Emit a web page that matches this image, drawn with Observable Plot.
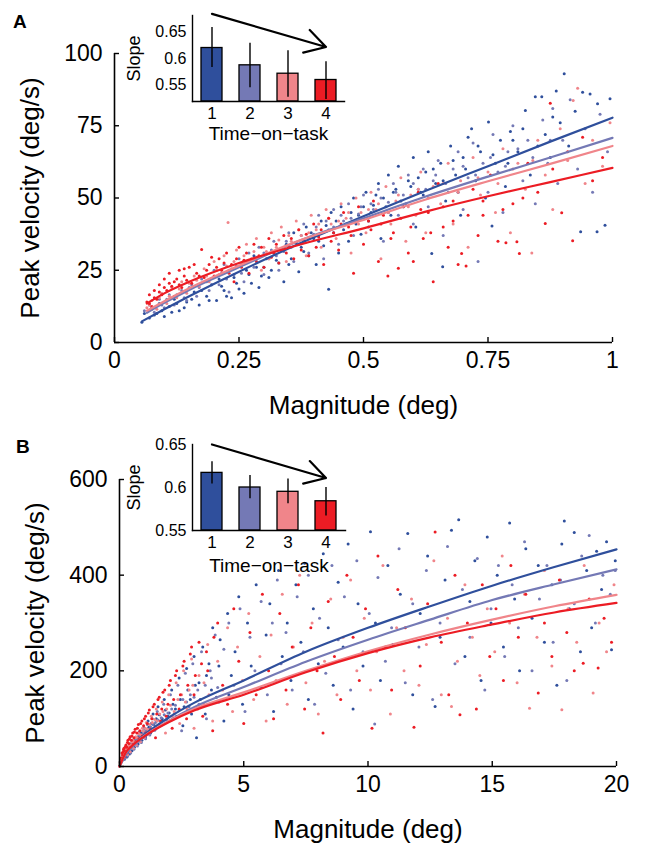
<!DOCTYPE html>
<html><head><meta charset="utf-8">
<script src="https://cdn.jsdelivr.net/npm/d3@7"></script>
<script src="https://cdn.jsdelivr.net/npm/@observablehq/plot@0.6"></script>
<style>
body{margin:0;background:#fff;}
#fig{position:relative;width:660px;height:846px;font-family:"Liberation Sans",Arial,sans-serif;}
#fig > div{position:absolute;}
.lbl{font-weight:bold;font-size:19px;}
</style></head>
<body><div id="fig"></div>
<script>
// ---------- colours / categories ----------
const tasks = ["1","2","3","4"];
const colors = ["#2f4f9c","#7479b5","#f0858a","#ec1c24"];

// ---------- Panel A: scatter (x = magnitude deg, y = peak velocity deg/s) ----------
const aDark = [[0.055,7],[0.06,10],[0.07,8.5],[0.075,12],[0.085,10],[0.09,13.5],[0.1,9],[0.11,12.5],[0.12,15],[0.13,11],[0.145,14],[0.16,17.5],[0.17,13],[0.185,16],[0.195,20],
[0.205,14.5],[0.21,22],[0.22,18],[0.23,25],[0.235,15.5],[0.245,20.5],[0.255,27],[0.26,17],[0.27,23.5],[0.28,30],[0.29,19],[0.3,26],[0.31,22.5],[0.32,31],[0.33,27.5],[0.34,21],[0.345,34],
[0.355,29],[0.36,38],[0.37,24.5],[0.375,33],[0.385,40],[0.39,30],[0.4,36],[0.405,27],[0.415,42],[0.42,33.5],[0.43,18.4],[0.435,45],[0.44,38],[0.45,31],[0.455,47],[0.465,41],[0.47,35],[0.48,50],[0.49,44],[0.495,37.5],
[0.505,52],[0.51,42],[0.52,47.5],[0.53,55],[0.535,36],[0.54,50],[0.55,58],[0.555,44],[0.565,53],[0.57,61],[0.58,47],[0.59,56],[0.6,64],[0.605,40],[0.615,52],[0.625,59],[0.63,66],[0.637,30.8],[0.645,55],[0.655,62],[0.659,26.2],[0.665,49],[0.675,68],[0.685,58],[0.695,44],[0.7,64],
[0.71,71],[0.717,74],[0.725,56],[0.735,66],[0.745,50],[0.751,76.3],[0.758,40.3],[0.765,62],[0.775,70],[0.785,54],[0.795,73],[0.81,66],[0.825,80.3],[0.835,58],[0.845,85],
[0.858,85],[0.865,72],[0.875,64],[0.887,87],[0.895,76],[0.903,93],[0.912,68],[0.925,80],[0.936,38.3],[0.94,86.6],[0.955,86],[0.969,38.3],[0.97,82.6],[0.985,40.6],[0.995,84.3]];
const aDarkDense = [[0.08,9.5],[0.095,11],[0.115,10.5],[0.125,13.5],[0.14,12],[0.155,15],[0.175,18],[0.19,14.5],[0.215,19.5],[0.225,16],[0.24,22.5],[0.25,18.5],[0.265,25],[0.275,20.5],[0.285,26],[0.295,23],[0.305,29],[0.315,25],[0.325,28.5],[0.335,32],[0.35,27],[0.365,34.5],[0.38,31.5],[0.395,38],[0.41,35],[0.425,40.5],[0.445,42],[0.46,39],[0.475,45],[0.485,41],[0.5,47],[0.515,45],[0.525,51],[0.545,47],[0.56,52],[0.575,49],[0.595,54],[0.61,57],[0.62,51],[0.64,60],[0.66,56],[0.68,63],[0.69,52],[0.705,60],[0.73,68],[0.76,65],[0.79,62],[0.8,70],[0.82,74],[0.85,68],[0.88,78]];
const aLight = [[0.06,11],[0.07,13],[0.08,10.5],[0.09,15],[0.1,12],[0.11,16.5],[0.12,13],[0.135,18],[0.145,14.5],[0.155,20],[0.165,16],[0.175,22],[0.19,18],[0.2,25],
[0.21,20],[0.22,27],[0.23,17.5],[0.24,23.5],[0.25,29],[0.26,21],[0.27,31],[0.28,26],[0.29,33],[0.3,23.5],[0.31,29],[0.32,35],[0.33,25],[0.34,31.5],
[0.35,38],[0.36,28],[0.37,34],[0.38,41],[0.39,31],[0.4,37.5],[0.41,44],[0.42,29],[0.43,39],[0.44,46],[0.45,34],[0.46,42],[0.47,48],[0.48,37],[0.49,44.5],
[0.5,51],[0.51,40],[0.52,46],[0.53,53],[0.54,35],[0.55,48.5],[0.56,55],[0.57,44],[0.58,51],[0.59,58],[0.6,41],[0.61,53],[0.62,60],[0.63,47],[0.64,56],[0.65,63],[0.66,37],[0.67,52],[0.68,60],[0.69,66],[0.7,46],
[0.71,57],[0.72,69],[0.73,28],[0.74,62],[0.75,52],[0.76,72],[0.77,59],[0.78,45],[0.79,66],[0.8,75],[0.82,56],[0.83,70],[0.845,48],[0.86,77],
[0.87,62],[0.88,81],[0.89,55],[0.9,70],[0.915,84],[0.93,60],[0.945,74],[0.96,52],[0.975,79],[0.99,66]];
const aLightDense = [[0.075,11.5],[0.095,13],[0.105,15],[0.125,16.5],[0.14,15.5],[0.15,19],[0.17,19],[0.185,21],[0.195,20],[0.215,24],[0.225,22],[0.245,26.5],[0.255,24],[0.265,28],[0.285,29.5],[0.3,31],[0.315,32],[0.325,30],[0.345,35],[0.355,33],[0.375,37],[0.39,36],[0.405,40],[0.425,42],[0.44,40],[0.455,44],[0.475,43],[0.495,47],[0.515,48],[0.535,50],[0.55,45],[0.565,52],[0.585,48],[0.6,55],[0.625,53],[0.645,58],[0.665,55],[0.7,61],[0.725,58],[0.755,64],[0.785,61],[0.81,67],[0.84,64],[0.875,70]];
const aPink = [[0.065,12],[0.075,14.5],[0.085,11.5],[0.095,17],[0.105,13.5],[0.115,19],[0.125,15.5],[0.135,21],[0.145,17],[0.16,23],[0.17,19.5],[0.18,25.5],[0.19,21],[0.2,28],
[0.21,23.5],[0.22,30],[0.228,41.5],[0.235,25.5],[0.245,32],[0.255,27],[0.265,34],[0.275,29],[0.285,36],[0.295,25],[0.305,31.5],[0.315,38],[0.325,33],[0.335,40],[0.345,28],
[0.355,35],[0.365,42],[0.375,37],[0.385,30],[0.395,44],[0.405,39],[0.415,33],[0.425,46],[0.435,41],[0.445,36],[0.455,48],[0.465,43],[0.475,31],[0.485,50],[0.495,45],
[0.505,38],[0.515,52],[0.525,46],[0.535,29],[0.545,54],[0.555,41],[0.565,49],[0.575,57],[0.585,35],[0.595,51],[0.605,44],[0.615,59],[0.625,38],[0.64,54],[0.655,48],[0.67,62],[0.68,41],[0.695,56],
[0.71,33],[0.72,64],[0.735,51],[0.75,59],[0.765,45],[0.78,67],[0.795,38],[0.81,62],[0.825,53],[0.838,31],[0.85,70],
[0.865,58],[0.88,46],[0.895,74],[0.91,63],[0.921,83.7],[0.93,88],[0.945,55],[0.96,70],[0.98,61],[0.995,76]];
const aPinkDense = [[0.07,13],[0.09,15.5],[0.11,16],[0.13,18.5],[0.15,20.5],[0.165,21.5],[0.185,23],[0.205,25],[0.225,26.5],[0.24,28],[0.26,30],[0.28,31.5],[0.3,33],[0.31,29],[0.33,35.5],[0.35,37],[0.37,39],[0.39,38],[0.41,41],[0.43,43],[0.45,42],[0.47,45],[0.49,41],[0.51,46],[0.53,48],[0.55,45],[0.57,51],[0.59,47],[0.61,53],[0.63,50],[0.66,55],[0.69,52],[0.73,57],[0.77,55],[0.8,60],[0.84,63]];
const aRed = [[0.065,14],[0.07,16.5],[0.075,12.5],[0.08,18],[0.085,15],[0.09,20],[0.095,16.5],[0.1,22],[0.105,18],[0.11,24],[0.115,19.5],[0.12,16],[0.125,22],[0.13,25],[0.135,19],[0.14,23],[0.15,26],[0.155,20.5],[0.165,24],[0.175,32.2],[0.18,22.5],[0.19,27],[0.2,23],
[0.21,29],[0.215,25],[0.225,31],[0.235,27],[0.24,21],[0.25,33],[0.26,28.5],[0.27,24],[0.28,34],[0.29,30],[0.3,26],[0.31,36],[0.32,31],[0.33,27.5],[0.34,37],[0.35,33],
[0.36,29],[0.37,39],[0.38,35],[0.39,30],[0.4,41],[0.41,36.5],[0.42,27],[0.43,43],[0.44,38],[0.45,32],[0.46,45],[0.47,40],[0.48,24],[0.49,47],[0.5,34],
[0.51,42],[0.52,49],[0.53,28],[0.54,44],[0.549,23],[0.56,38],[0.57,25.7],[0.58,47],[0.59,31],[0.6,28],[0.61,52],[0.62,36],[0.63,45],[0.64,21],[0.65,55],[0.66,40],[0.67,33],[0.68,49],[0.69,27],[0.697,30.8],[0.706,26.5],
[0.72,53],[0.73,37],[0.74,44],[0.755,58],[0.77,35],[0.786,34.5],[0.8,48],[0.808,34.9],[0.813,30.8],[0.83,62],[0.85,52],
[0.865,41.2],[0.875,82.8],[0.88,60],[0.898,44.9],[0.91,66],[0.92,35.2],[0.94,71],[0.96,56],[0.98,64]];
const aRedDense = [[0.07,13.5],[0.08,15.5],[0.09,17.5],[0.1,19],[0.11,20.5],[0.12,21],[0.13,20],[0.14,25.5],[0.145,21.5],[0.16,27],[0.17,23],[0.185,25],[0.195,29.5],[0.205,26],[0.22,27.5],[0.23,24],[0.245,29],[0.255,26],[0.265,31],[0.285,28],[0.295,33],[0.315,29.5],[0.325,34],[0.345,31],[0.355,36],[0.375,32],[0.385,37.5],[0.405,33],[0.415,39],[0.435,35],[0.455,41],[0.475,37],[0.495,43],[0.515,39],[0.535,41],[0.555,36],[0.575,43],[0.595,40],[0.615,46],[0.635,38],[0.66,47],[0.68,42],[0.71,44],[0.74,49],[0.78,46],[0.82,50]];

// Panel A fitted curves
const aFitDark  = [[0.055,7.3],[0.1,11.5],[0.15,16],[0.25,24.5],[0.375,34.5],[0.5,43.7],[0.625,52.5],[0.75,61],[0.875,69.5],[1,77.8]];
const aFitLight = [[0.065,10.3],[0.1,13.7],[0.15,18.2],[0.25,26],[0.375,35.5],[0.5,43],[0.625,50.5],[0.75,57.4],[0.875,64],[1,70.8]];
const aFitPink  = [[0.065,11],[0.1,14.3],[0.15,18.8],[0.25,26.6],[0.375,35.5],[0.5,42.4],[0.625,49.5],[0.75,55.8],[0.875,61.8],[1,68]];
const aFitRed   = [[0.065,13.5],[0.1,17],[0.15,21],[0.25,27.5],[0.375,34],[0.5,39.5],[0.625,45.3],[0.75,50.6],[0.875,55.5],[1,60.4]];

// ---------- Panel B ----------
const bDark = [[0.1,12],[0.15,22],[0.2,15],[0.25,30],[0.3,20],[0.35,38],[0.4,26],[0.45,45],[0.5,33],[0.55,52],[0.6,40],[0.7,60],[0.75,47],[0.8,72],[0.9,55],[1.0,80],[1.05,62],[1.15,95],[1.25,70],[1.35,110],[1.45,82],[1.55,125],[1.7,95],[1.8,140],[1.95,105],[2.1,160],[2.25,120],[2.4,185],[2.55,85],[2.7,205],[2.85,140],[3.0,230],[3.1,60],
[3.2,175],[3.35,250],[3.45,110],[3.6,215],[3.75,290],[3.9,145],[4.05,265],[4.2,95],[4.35,320],[4.5,190],[4.65,240],[4.8,355],[4.95,130],[5.15,300],[5.3,210],[5.5,380],[5.7,165],[5.9,275],
[6.05,340],[6.2,115],[6.4,410],[6.55,230],[6.75,300],[6.9,180],[7.1,380],[7.3,260],[7.45,425],[7.6,140],[7.8,330],[8.0,215],[8.2,445],[8.4,290],[8.6,170],[8.8,385],[9.0,250],[9.2,465],[9.4,120],[9.6,340],[9.8,210],[10.1,491],
[10.3,300],[10.5,180],[10.8,420],[11.0,255],[11.3,360],[11.6,487],[11.8,150],[12.1,320],[12.4,440],[12.7,125.6],[12.9,270],[13.1,390],[13.36,494],[13.65,516],[13.9,230],[14.1,345],[14.3,430],[14.55,180],[14.8,480],[14.95,300],
[15.2,400],[15.45,250],[15.7,509],[15.9,350],[16.1,200],[16.35,455],[16.6,310],[16.85,420],[17.1,260],[17.4,380],[17.6,170],[17.8,465],[17.9,513],[18.1,330],[18.3,489],[18.55,240],[18.8,410],[19.0,290],[19.2,450],[19.4,370],[19.6,470],[19.8,244],[19.95,430]];
const bDarkDense = [[0.05,8],[0.15,16],[0.22,25],[0.3,31],[0.38,30],[0.42,40],[0.48,48],[0.55,40],[0.62,55],[0.68,48],[0.75,62],[0.82,58],[0.88,70],[0.95,66],[1.02,72],[1.1,75],[1.18,82],[1.28,90],[1.38,88],[1.48,100],[1.6,108],[1.72,100],[1.85,118],[2.0,112],[2.15,130],[2.3,105],[2.45,140],[2.6,125],[2.75,160],[2.9,110],[3.05,170],[3.25,140],[3.5,190],[3.7,160],[4.0,210],[4.4,150]];
const bLight = [[0.12,14],[0.18,25],[0.22,17],[0.28,33],[0.33,22],[0.4,41],[0.45,28],[0.52,48],[0.58,36],[0.65,56],[0.72,43],[0.8,66],[0.88,50],[0.95,75],[1.05,58],[1.12,88],[1.22,66],[1.32,100],[1.42,76],[1.52,115],[1.65,85],[1.78,130],[1.9,98],[2.05,150],[2.2,110],[2.35,170],[2.5,75],[2.65,195],[2.8,125],[2.95,215],
[3.15,160],[3.3,240],[3.5,100],[3.65,200],[3.85,275],[4.0,135],[4.2,245],[4.4,300],[4.6,170],[4.85,330],[5.05,115],[5.25,270],[5.45,200],[5.7,345],[5.95,150],
[6.15,300],[6.35,390],[6.5,215],[6.7,280],[6.95,160],[7.15,355],[7.4,240],[7.6,400],[7.85,130],[8.05,310],[8.3,195],[8.55,420],[8.8,265],[9.05,355],[9.3,160],[9.55,430],[9.8,240],
[10.05,320],[10.27,89],[10.4,395],[10.7,220],[10.95,290],[11.25,455],[11.5,175],[11.8,340],[12.05,250],[12.35,410],[12.6,140],[12.9,300],[13.2,460],[13.5,215],[13.8,370],[14.1,270],[14.4,435],[14.7,160],[14.95,330],
[15.25,420],[15.5,230],[15.8,380],[16.05,290],[16.3,470],[16.6,200],[16.9,350],[17.2,420],[17.45,260],[17.75,390],[18.0,180],[18.3,340],[18.6,440],[18.9,483],[19.15,300],[19.45,400],[19.75,360],[19.95,410]];
const bLightDense = [[0.07,9],[0.14,18],[0.2,24],[0.26,28],[0.35,34],[0.42,37],[0.5,44],[0.56,45],[0.63,50],[0.7,55],[0.78,58],[0.85,63],[0.92,66],[1.0,68],[1.08,72],[1.16,77],[1.25,83],[1.35,88],[1.45,92],[1.55,97],[1.68,102],[1.8,108],[1.95,112],[2.1,120],[2.25,128],[2.4,118],[2.55,140],[2.7,135],[2.85,150],[3.0,145],[3.2,130],[3.45,170],[3.7,185],[3.95,165]];
const bPink = [[0.1,16],[0.16,27],[0.21,20],[0.27,36],[0.32,25],[0.38,44],[0.43,31],[0.5,52],[0.56,38],[0.62,60],[0.68,45],[0.76,70],[0.84,52],[0.92,80],[1.0,60],[1.08,92],[1.18,68],[1.28,105],[1.38,78],[1.48,120],[1.6,88],[1.72,135],[1.85,70],[1.98,150],[2.12,105],[2.28,175],[2.42,90],[2.58,200],[2.72,120],[2.9,225],[3.0,80],
[3.2,190],[3.4,130],[3.55,255],[3.75,95],[3.95,220],[4.15,160],[4.35,290],[4.55,115],[4.75,250],[4.95,180],[5.2,320],[5.4,140],[5.65,230],[5.9,95],
[6.1,275],[6.3,180],[6.55,360],[6.75,130],[7.0,250],[7.25,400],[7.5,175],[7.75,300],[8.0,110],[8.25,220],[8.5,350],[8.75,150],[9.0,270],[9.3,390],[9.55,200],[9.85,310],
[10.1,160],[10.35,240],[10.6,420],[10.9,110],[11.15,290],[11.45,200],[11.75,350],[12.05,170],[12.35,255],[12.65,430],[12.95,150],[13.2,310],[13.36,125.6],[13.6,220],[13.9,380],[14.2,270],[14.5,190],[14.8,330],
[15.1,240],[15.4,440],[15.7,300],[16.0,175],[16.3,360],[16.5,122],[16.8,270],[17.1,410],[17.4,210],[17.8,118.7],[18.05,330],[18.4,260],[18.7,420],[19.06,153.6],[19.3,300],[19.6,240],[19.9,380]];
const bPinkDense = [[0.05,10],[0.12,20],[0.18,28],[0.24,30],[0.3,38],[0.36,40],[0.42,46],[0.48,45],[0.54,55],[0.6,52],[0.66,62],[0.72,60],[0.8,68],[0.88,66],[0.96,74],[1.04,80],[1.12,78],[1.22,88],[1.32,92],[1.42,98],[1.52,95],[1.62,110],[1.75,115],[1.9,120],[2.05,128],[2.2,115],[2.35,140],[2.5,150],[2.65,135],[2.8,160],[2.95,170],[3.15,120],[3.4,175],[3.6,150]];
const bRed = [[0.08,14],[0.12,24],[0.16,35],[0.2,20],[0.24,42],[0.28,28],[0.32,50],[0.36,34],[0.4,58],[0.45,40],[0.5,64],[0.55,46],[0.6,72],[0.66,52],[0.72,80],[0.78,58],[0.85,90],[0.92,64],[1.0,100],[1.08,70],[1.16,112],[1.25,78],[1.35,125],[1.45,60],[1.55,140],[1.65,95],[1.75,155],[1.88,105],[2.0,170],[2.12,80],[2.25,190],[2.4,120],[2.55,210],[2.7,100],[2.85,235],[3.0,150],
[3.2,260],[3.35,105],[3.55,200],[3.75,75],[3.95,300],[4.15,170],[4.35,130],[4.6,330],[4.8,220],[5.0,90],[5.25,280],[5.5,150],[5.75,360],[6.0,200],[6.2,100],
[6.45,320],[6.7,160],[6.95,250],[7.2,380],[7.45,120],[7.7,290],[7.95,200],[8.19,70],[8.4,345],[8.65,230],[8.9,140],[9.15,400],[9.4,270],[9.65,180],[9.9,330],
[10.16,80],[10.4,440],[10.7,250],[10.95,160],[11.2,370],[11.5,290],[11.85,82],[12.1,210],[12.4,340],[12.7,490],[12.95,260],[13.25,150],[13.5,400],[13.7,108],[14.0,300],[14.36,120],[14.6,380],[14.9,230],
[15.15,330],[15.45,180],[15.75,420],[16.05,270],[16.35,360],[16.85,153.6],[17.1,300],[17.4,230],[17.7,390],[18.0,280],[18.3,200],[18.66,216],[18.9,350],[19.26,206],[19.5,310],[19.8,260]];
const bRedDense = [[0.04,9],[0.06,18],[0.1,28],[0.14,30],[0.18,38],[0.22,32],[0.26,45],[0.3,40],[0.34,55],[0.38,48],[0.43,62],[0.48,55],[0.53,70],[0.58,60],[0.63,78],[0.7,70],[0.76,88],[0.82,75],[0.9,95],[0.97,85],[1.05,105],[1.12,90],[1.2,118],[1.3,100],[1.4,130],[1.5,110],[1.6,145],[1.7,120],[1.82,160],[1.95,130],[2.05,180],[2.18,140],[2.3,200],[2.45,150],[2.6,220],[2.75,170],[2.9,250],[3.05,190],[3.3,215],[3.5,240],[3.8,270]];

const bFitDark  = [[0,0],[0.25,27],[0.5,42],[1,66],[2,103],[3,133],[5,180],[7.5,240],[10,290],[12.5,335],[15,378],[17.5,417],[20,454]];
const bFitLight = [[0,0],[0.25,25],[0.5,40],[1,62],[2,96],[3,124],[5,166],[7.5,219],[10,265],[12.5,307],[15,348],[17.5,381],[20,412]];
const bFitPink  = [[0,0],[0.25,29],[0.5,43],[1,64],[2,95],[3,120],[5,155],[7.5,200],[10,241],[12.5,276],[15,307],[17.5,335],[20,359]];
const bFitRed   = [[0,0],[0.25,29],[0.5,43],[1,63],[2,93],[3,117],[5,150],[7.5,197],[10,237],[12.5,270],[15,297],[17.5,322],[20,342]];

// ---------- insets: slope by time-on-task ----------
const aSlope = [0.620, 0.587, 0.571, 0.559];
const aSlopeLo = [0.583, 0.544, 0.526, 0.522];
const aSlopeHi = [0.659, 0.629, 0.615, 0.594];
const bSlope = [0.617, 0.600, 0.595, 0.584];
const bSlopeLo = [0.604, 0.587, 0.581, 0.567];
const bSlopeHi = [0.630, 0.614, 0.610, 0.600];

// ticks & labels
const aXTicks = [0, 0.25, 0.5, 0.75, 1];
const aYTicks = [0, 25, 50, 75, 100];
const bXTicks = [0, 5, 10, 15, 20];
const bYTicks = [0, 200, 400, 600];
const insetTicks = [0.55, 0.6, 0.65];
const xTitle = "Magnitude (deg)";
const yTitle = "Peak velocity (deg/s)";
const insetXTitle = "Time\u2212on\u2212task";
const insetYTitle = "Slope";

const FONT = "'Liberation Sans', Arial, sans-serif";
const toObj = arr => arr.map(([x, y]) => ({x, y}));

function mainPanel({height, margins, xDomain, yDomain, xTicks, yTicks, scatter, fits, tickLen}) {
  const [mt, mr, mb, ml] = margins;
  return Plot.plot({
    width: 660, height,
    marginTop: mt, marginRight: mr, marginBottom: mb, marginLeft: ml,
    x: {domain: xDomain, label: null},
    y: {domain: yDomain, label: null},
    style: {fontFamily: FONT, background: "transparent", overflow: "visible", color: "black"},
    marks: [
      ...scatter.map((s, i) => Plot.dot(toObj(s), {x: "x", y: "y", r: 1.5, fill: colors[i], stroke: null})),
      ...fits.map((f, i) => Plot.line(toObj(f), {x: "x", y: "y", stroke: colors[i], strokeWidth: 2.2, curve: "monotone-x"})),
      Plot.ruleX([xDomain[0]], {strokeWidth: 1.6}),
      Plot.ruleY([yDomain[0]], {strokeWidth: 1.6}),
      Plot.axisX({ticks: xTicks, tickSize: tickLen, dy: -tickLen, tickFormat: () => "", strokeWidth: 1.4, label: null}),
      Plot.axisY({ticks: yTicks, tickSize: tickLen, dx: tickLen, tickFormat: () => "", strokeWidth: 1.4, label: null}),
      Plot.axisX({ticks: xTicks, tickSize: 0, tickPadding: 9, fontSize: 23, tickFormat: d => String(d), label: null}),
      Plot.axisY({ticks: yTicks, tickSize: 0, tickPadding: 12, fontSize: 23, tickFormat: d => String(d), label: null}),
      Plot.text([xTitle], {frameAnchor: "bottom", lineAnchor: "middle", dy: 63, fontSize: 26}),
      Plot.text([yTitle], {frameAnchor: "left", textAnchor: "middle", lineAnchor: "middle", rotate: -90, dx: -84, fontSize: 26})
    ]
  });
}

function inset({height, margins, yDomain, yTicks, slope, lo, hi, arrow, xTitleDy}) {
  const [mt, mr, mb, ml] = margins;
  const rows = tasks.map((t, i) => ({t, v: slope[i], lo: lo[i], hi: hi[i], c: colors[i]}));
  return Plot.plot({
    width: 250, height,
    marginTop: mt, marginRight: mr, marginBottom: mb, marginLeft: ml,
    x: {type: "band", domain: tasks, paddingInner: 0.46, paddingOuter: 0.2, label: null},
    y: {domain: yDomain, label: null},
    color: {type: "identity"},
    style: {fontFamily: FONT, background: "transparent", overflow: "visible", color: "black"},
    marks: [
      Plot.barY(rows, {x: "t", y1: yDomain[0], y2: "v", fill: "c", stroke: "black", strokeWidth: 1.3}),
      Plot.ruleX(rows, {x: "t", y1: "lo", y2: "hi", stroke: "black", strokeWidth: 1.4}),
      Plot.frame({anchor: "left", strokeWidth: 1.4}),
      Plot.frame({anchor: "bottom", strokeWidth: 1.4}),
      Plot.arrow([arrow], {x1: "from", x2: "to", y1: "y1", y2: "y2", stroke: "black", strokeWidth: 2.2, headLength: 16}),
      Plot.axisY({ticks: yTicks, tickSize: 0, tickPadding: 6, fontSize: 16, tickFormat: d => String(d), label: null}),
      Plot.axisX({tickSize: 0, tickPadding: 5, fontSize: 17, label: null}),
      Plot.text([insetXTitle], {frameAnchor: "bottom", lineAnchor: "middle", dy: xTitleDy, fontSize: 19}),
      Plot.text([insetYTitle], {frameAnchor: "left", textAnchor: "middle", lineAnchor: "middle", rotate: -90, dx: -58, fontSize: 18})
    ]
  });
}

const fig = document.getElementById("fig");
function place(node, left, top) {
  const d = document.createElement("div");
  d.style.left = left + "px"; d.style.top = top + "px";
  d.appendChild(node); fig.appendChild(d);
}
function label(txt, left, top) {
  const d = document.createElement("div");
  d.className = "lbl"; d.textContent = txt;
  d.style.left = left + "px"; d.style.top = top + "px";
  fig.appendChild(d);
}

place(mainPanel({height: 420, margins: [53, 48, 78, 114], xDomain: [0, 1], yDomain: [0, 100],
  xTicks: aXTicks, yTicks: aYTicks,
  scatter: [aDark.concat(aDarkDense), aLight.concat(aLightDense), aPink.concat(aPinkDense), aRed.concat(aRedDense)],
  fits: [aFitDark, aFitLight, aFitPink, aFitRed], tickLen: 5}), 0, 0);
place(mainPanel({height: 426, margins: [59, 44, 80, 119], xDomain: [0, 20], yDomain: [0, 600],
  xTicks: bXTicks, yTicks: bYTicks,
  scatter: [bDark.concat(bDarkDense), bLight.concat(bLightDense), bPink.concat(bPinkDense), bRed.concat(bRedDense)],
  fits: [bFitDark, bFitLight, bFitPink, bFitRed], tickLen: 5}), 0, 420);
place(inset({height: 150, margins: [15, 6, 49, 92], yDomain: [0.518, 0.682], yTicks: insetTicks,
  slope: aSlope, lo: aSlopeLo, hi: aSlopeHi, arrow: {from: "1", to: "4", y1: 0.685, y2: 0.622}, xTitleDy: 32}), 100, 0);
place(inset({height: 160, margins: [24, 5, 50, 92], yDomain: [0.55, 0.65], yTicks: insetTicks,
  slope: bSlope, lo: bSlopeLo, hi: bSlopeHi, arrow: {from: "1", to: "4", y1: 0.65, y2: 0.611}, xTitleDy: 35}), 100, 420);
label("A", 13, 11);
label("B", 16, 436);
</script></body></html>
